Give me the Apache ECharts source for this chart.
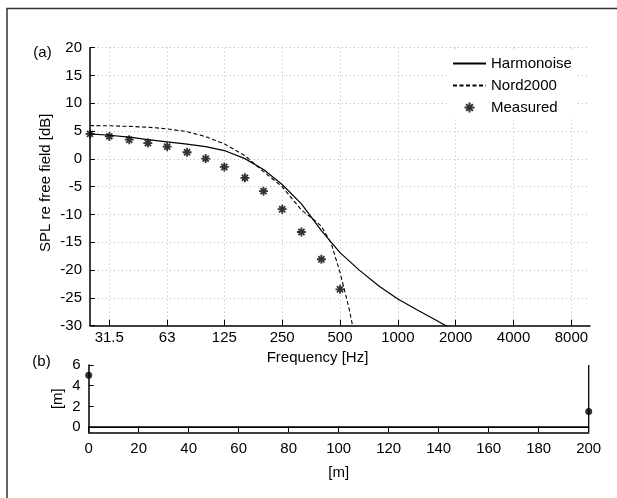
<!DOCTYPE html>
<html><head><meta charset="utf-8">
<script src="https://cdn.jsdelivr.net/npm/echarts@6/dist/echarts.min.js"></script>
<style>html,body{margin:0;padding:0;background:#fff}#c{width:617px;height:498px}</style>
</head><body><div id="c"></div>
<script>
// ---- data ----
const octaveTicks = [31.5, 63, 125, 250, 500, 1000, 2000, 4000, 8000];
const octaveLabels = ['31.5', '63', '125', '250', '500', '1000', '2000', '4000', '8000'];

const harmFreq = [25, 31.5, 40, 50, 63, 80, 100, 125, 160, 200, 250, 315, 400, 500, 630, 800, 1000, 1250, 1600, 2000];
const harmDb = [4.5, 4.25, 3.9, 3.45, 3.05, 2.65, 2.2, 1.5, 0.05, -1.9, -4.6, -8.1, -12.9, -16.85, -20.0, -22.9, -25.2, -27.1, -29.1, -31.0];

const nordFreq = [25, 31.5, 40, 50, 63, 80, 100, 125, 160, 200, 250, 315, 355, 400, 450, 500, 560, 630];
const nordDb = [6.0, 5.95, 5.85, 5.7, 5.4, 4.9, 4.0, 2.7, 0.6, -2.3, -5.0, -9.2, -10.6, -12.1, -15.2, -20.4, -27.2, -36.0];

const measFreq = [25, 31.5, 40, 50, 63, 80, 100, 125, 160, 200, 250, 315, 400, 500];
const measDb = [4.5, 4.05, 3.45, 2.85, 2.2, 1.2, 0.05, -1.45, -3.4, -5.8, -9.05, -13.15, -18.05, -23.45];

const heightTicks = [0, 2, 4, 6];
const groundX = [0, 200];
const groundY = [0, 0];
const sourcePos = [0, 5];
const receiverPos = [200, 1.5];
const mastX = [200, 200];
const mastY = [-0.5, 6];

// ---- chart ----
const FONT = "'Liberation Sans', Arial, Helvetica, sans-serif";
const L2 = v => Math.log2(v);
const pair = (xs, ys, fx) => xs.map((x, i) => [fx ? fx(x) : x, ys[i]]);
const asterisk = 'path://M5,0L5,10M0,5L10,5M1.6,1.6L8.4,8.4M8.4,1.6L1.6,8.4';
const txt = {color: '#000', fontFamily: FONT, fontSize: 15};
const grid = {color: '#b8b8b8', type: [1, 3], width: 1};
const axisLineStyle = {color: '#000', width: 1.5};
const noSym = {color: 'rgba(0,0,0,0)', borderColor: 'rgba(0,0,0,0)', borderWidth: 0};

const chart = echarts.init(document.getElementById('c'), null, {renderer: 'canvas'});
chart.setOption({
  animation: false,
  backgroundColor: '#fff',
  textStyle: {fontFamily: FONT},
  grid: [
    {left: 90, top: 47.7, width: 500, height: 278, containLabel: false},
    {left: 88.7, top: 365, width: 500, height: 67.3, containLabel: false}
  ],
  legend: {
    data: [
      {name: 'Harmonoise', itemStyle: noSym},
      {name: 'Nord2000', itemStyle: noSym},
      {name: 'Measured'}
    ],
    orient: 'vertical', left: 448, top: 49,
    backgroundColor: '#fff', padding: [7, 5, 3, 4],
    itemWidth: 33, itemHeight: 10, itemGap: 7,
    selectedMode: false,
    textStyle: Object.assign({}, txt, {lineHeight: 15}),
    z: 10
  },
  xAxis: [
    {
      gridIndex: 0, type: 'value', min: L2(25), max: L2(10000),
      axisLine: {show: true, onZero: false, lineStyle: axisLineStyle},
      axisTick: {show: true, inside: true, length: 6, customValues: octaveTicks.map(L2), lineStyle: {color: '#000'}},
      axisLabel: Object.assign({}, txt, {margin: 5, customValues: octaveTicks.map(L2),
        formatter: v => { let b = 0; octaveTicks.forEach((t, i) => { if (Math.abs(L2(t) - v) < Math.abs(L2(octaveTicks[b]) - v)) b = i; }); return octaveLabels[b]; }}),
      splitLine: {show: true, lineStyle: grid},
      name: 'Frequency [Hz]', nameLocation: 'middle', nameGap: 25, nameMoveOverlap: false,
      nameTextStyle: Object.assign({}, txt, {padding: [0, 45, 0, 0]})
    },
    {
      gridIndex: 1, type: 'value', min: 0, max: 200, interval: 20,
      axisLine: {show: true, onZero: false, lineStyle: axisLineStyle},
      axisTick: {show: true, inside: true, length: 6, lineStyle: {color: '#000'}},
      axisLabel: Object.assign({}, txt, {margin: 9}),
      splitLine: {show: false},
      name: '[m]', nameLocation: 'middle', nameGap: 33, nameMoveOverlap: false, nameTextStyle: txt
    }
  ],
  yAxis: [
    {
      gridIndex: 0, type: 'value', min: -30, max: 20, interval: 5,
      axisLine: {show: true, onZero: false, lineStyle: axisLineStyle},
      axisTick: {show: true, inside: true, length: 5, lineStyle: {color: '#000'}},
      axisLabel: Object.assign({}, txt, {margin: 8}),
      splitLine: {show: true, lineStyle: grid},
      name: 'SPL re free field [dB]', nameLocation: 'middle', nameGap: 37, nameMoveOverlap: false,
      nameTextStyle: Object.assign({}, txt, {padding: [0, 0, 0, 8]})
    },
    {
      gridIndex: 1, type: 'value', min: -0.5, max: 6,
      axisLine: {show: true, onZero: false, lineStyle: axisLineStyle},
      axisTick: {show: true, inside: true, length: 5, customValues: heightTicks, lineStyle: {color: '#000'}},
      axisLabel: Object.assign({}, txt, {margin: 8, customValues: heightTicks}),
      splitLine: {show: false},
      name: '[m]', nameLocation: 'middle', nameGap: 23, nameMoveOverlap: false, nameTextStyle: txt
    }
  ],
  series: [
    {
      name: 'Harmonoise', type: 'line', xAxisIndex: 0, yAxisIndex: 0,
      data: pair(harmFreq, harmDb, L2), symbol: 'none', smooth: false, clip: true,
      lineStyle: {color: '#000', width: 1.2, type: 'solid'}, itemStyle: {color: '#000'}, z: 3
    },
    {
      name: 'Nord2000', type: 'line', xAxisIndex: 0, yAxisIndex: 0,
      data: pair(nordFreq, nordDb, L2), symbol: 'none', smooth: false, clip: true,
      lineStyle: {color: '#000', width: 1.1, type: [4, 2.5]}, itemStyle: {color: '#000'}, z: 3
    },
    {
      name: 'Measured', type: 'scatter', xAxisIndex: 0, yAxisIndex: 0,
      data: pair(measFreq, measDb, L2), symbol: asterisk, symbolSize: 9,
      itemStyle: {color: 'rgba(0,0,0,0)', borderColor: '#000', borderWidth: 1.8}, z: 4
    },
    {
      name: 'ground', type: 'line', xAxisIndex: 1, yAxisIndex: 1,
      data: pair(groundX, groundY), symbol: 'none',
      lineStyle: {color: '#000', width: 1.6}, z: 3
    },
    {
      name: 'mast', type: 'line', xAxisIndex: 1, yAxisIndex: 1,
      data: pair(mastX, mastY), symbol: 'none', clip: false,
      lineStyle: {color: '#000', width: 1.3}, z: 3
    },
    {
      name: 'points', type: 'scatter', xAxisIndex: 1, yAxisIndex: 1, clip: false,
      data: [sourcePos, receiverPos], symbol: 'circle', symbolSize: 7,
      itemStyle: {color: '#000'}, z: 5
    }
  ],
  graphic: [
    {type: 'rect', shape: {x: 7, y: 8.5, width: 800, height: 700}, style: {fill: 'none', stroke: '#333', lineWidth: 1.5}, silent: true},
    {type: 'text', x: 42.5, y: 52.7, style: {text: '(a)', fill: '#000', font: '15px ' + FONT, align: 'center', verticalAlign: 'middle'}},
    {type: 'text', x: 41.5, y: 362.3, style: {text: '(b)', fill: '#000', font: '15px ' + FONT, align: 'center', verticalAlign: 'middle'}}
  ]
});
</script>
</body></html>
